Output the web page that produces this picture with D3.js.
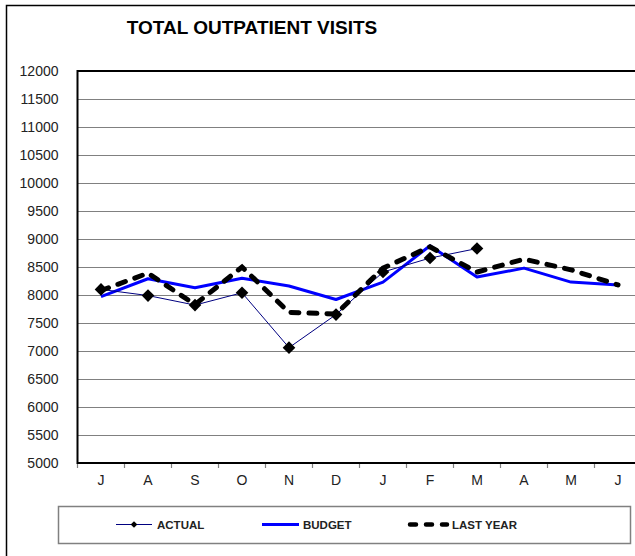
<!DOCTYPE html>
<html>
<head>
<meta charset="utf-8">
<script src="https://cdn.jsdelivr.net/npm/d3@7"></script>
<style>
  body { margin: 0; background: #fff; }
  svg { display: block; font-family: "Liberation Sans", Arial, sans-serif; }
</style>
</head>
<body>
<svg id="chart" width="635" height="556"></svg>
<script>
// data
const months = ["J", "A", "S", "O", "N", "D", "J", "F", "M", "A", "M", "J"];
const yTicks = [5000, 5500, 6000, 6500, 7000, 7500, 8000, 8500, 9000, 9500, 10000, 10500, 11000, 11500, 12000];
const actual = [8100, 7990, 7820, 8040, 7060, 7650, 8410, 8660, 8830];
const budget = [7970, 8290, 8130, 8300, 8160, 7920, 8230, 8880, 8320, 8480, 8230, 8180];
const lastYear = [8080, 8390, 7830, 8500, 7690, 7660, 8480, 8860, 8410, 8640, 8450, 8180];

const svg = d3.select("#chart");
const plotLeft = 77.5, plotTop = 71, plotBottom = 463, bandW = 47;
const plotRight = plotLeft + bandW * months.length;

svg.append("rect").attr("width", 635).attr("height", 556).attr("fill", "#fff");

// outer chart border
svg.append("rect")
    .attr("x", 6.5).attr("y", 5.5)
    .attr("width", 640).attr("height", 600)
    .attr("fill", "none").attr("stroke", "#000").attr("stroke-width", 1.5);

svg.append("text")
    .attr("x", 252).attr("y", 34)
    .attr("text-anchor", "middle")
    .attr("font-size", 19).attr("font-weight", "bold")
    .text("TOTAL OUTPATIENT VISITS");

const x = d3.scaleBand().domain(d3.range(months.length)).range([plotLeft, plotRight]);
const y = d3.scaleLinear().domain([5000, 12000]).range([plotBottom, plotTop]);

// gridlines + y labels
const yAxis = svg.append("g")
    .attr("transform", `translate(${plotLeft},0)`)
    .call(d3.axisLeft(y).tickValues(yTicks).tickSize(-(plotRight - plotLeft)).tickPadding(19).tickFormat(d => d));
yAxis.select(".domain").remove();
yAxis.selectAll(".tick line").attr("stroke", "#808080").attr("stroke-width", 1.2);
yAxis.selectAll(".tick text").attr("font-size", 14).attr("fill", "#222")
    .attr("font-family", "Liberation Sans, Arial, sans-serif");

// x axis
const xAxis = svg.append("g")
    .attr("transform", `translate(0,${plotBottom})`)
    .call(d3.axisBottom(x).tickSize(0).tickPadding(12).tickFormat(i => months[i]));
xAxis.select(".domain").remove();
xAxis.selectAll(".tick text").attr("font-size", 14).attr("fill", "#222")
    .attr("font-family", "Liberation Sans, Arial, sans-serif");

// category tick marks
svg.append("g").selectAll("line")
    .data(d3.range(months.length + 1))
    .join("line")
    .attr("x1", i => plotLeft + i * x.step()).attr("x2", i => plotLeft + i * x.step())
    .attr("y1", plotBottom).attr("y2", plotBottom + 5)
    .attr("stroke", "#808080").attr("stroke-width", 1.2);

// plot frame
svg.append("path")
    .attr("d", `M${plotRight},${plotTop}H${plotLeft}V${plotBottom}H${plotRight}`)
    .attr("fill", "none").attr("stroke", "#000").attr("stroke-width", 2);

const cx = i => x(i) + x.bandwidth() / 2;
const line = d3.line().x((d, i) => cx(i)).y(d => y(d));

svg.append("path").datum(budget)
    .attr("d", line)
    .attr("fill", "none").attr("stroke", "#0000ff").attr("stroke-width", 3)
    .attr("stroke-linejoin", "round");

svg.append("path").datum(actual)
    .attr("d", line)
    .attr("fill", "none").attr("stroke", "#000080").attr("stroke-width", 1);

const diamond = d3.symbol().type(d3.symbolSquare).size(80);
svg.append("g").selectAll("path")
    .data(actual)
    .join("path")
    .attr("d", diamond)
    .attr("transform", (d, i) => `translate(${cx(i)},${y(d)}) rotate(45)`)
    .attr("fill", "#000");

svg.append("path").datum(lastYear)
    .attr("d", line)
    .attr("fill", "none").attr("stroke", "#000").attr("stroke-width", 5)
    .attr("stroke-dasharray", "8,10").attr("stroke-linecap", "round");

// legend
const lg = svg.append("g");
lg.append("rect")
    .attr("x", 58.5).attr("y", 506.5).attr("width", 572).attr("height", 37)
    .attr("fill", "#fff").attr("stroke", "#808080").attr("stroke-width", 1.5);

const ly = 524.5;
lg.append("line").attr("x1", 116).attr("x2", 152).attr("y1", ly).attr("y2", ly)
    .attr("stroke", "#000080").attr("stroke-width", 1);
lg.append("path").attr("d", d3.symbol().type(d3.symbolSquare).size(22))
    .attr("transform", `translate(134,${ly}) rotate(45)`).attr("fill", "#000");
lg.append("line").attr("x1", 262).attr("x2", 299).attr("y1", ly).attr("y2", ly)
    .attr("stroke", "#0000ff").attr("stroke-width", 3);
lg.append("line").attr("x1", 410).attr("x2", 447).attr("y1", ly).attr("y2", ly)
    .attr("stroke", "#000").attr("stroke-width", 4.5)
    .attr("stroke-dasharray", "6,10").attr("stroke-linecap", "round");

const legendItems = [["ACTUAL", 157], ["BUDGET", 303], ["LAST YEAR", 452]];
lg.selectAll("text.lab")
    .data(legendItems)
    .join("text")
    .attr("class", "lab")
    .attr("x", d => d[1]).attr("y", ly + 4)
    .attr("font-size", 11.5).attr("font-weight", "bold").attr("fill", "#222")
    .text(d => d[0]);
</script>
</body>
</html>
